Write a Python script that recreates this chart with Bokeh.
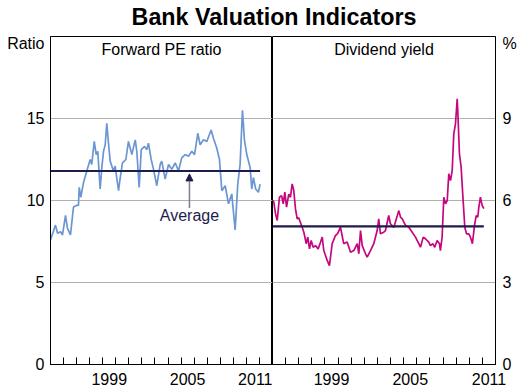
from bokeh.plotting import figure
from bokeh.models import Range1d, FixedTicker, Label, Arrow, NormalHead, Div
from bokeh.layouts import row, column
from bokeh.embed import file_html
from bokeh.resources import INLINE

# ---- data ----
pe_dates = [1995.00, 1995.38, 1995.54, 1995.77, 1995.92, 1996.15, 1996.30, 1996.53, 1996.76, 1996.99,
            1997.14, 1997.20, 1997.32, 1997.53, 1997.78, 1998.04, 1998.16, 1998.35, 1998.50, 1998.62,
            1998.80, 1998.93, 1999.06, 1999.19, 1999.31, 1999.44, 1999.57, 1999.82, 1999.95, 2000.21,
            2000.34, 2000.51, 2000.77, 2000.97, 2001.23, 2001.49, 2001.61, 2001.79, 2001.95, 2002.20,
            2002.37, 2002.50, 2002.71, 2002.89, 2003.14, 2003.40, 2003.52, 2003.78, 2004.04, 2004.29,
            2004.55, 2004.80, 2005.05, 2005.31, 2005.57, 2005.82, 2006.03, 2006.28, 2006.46, 2006.72,
            2006.97, 2007.30, 2007.48, 2007.73, 2007.94, 2008.12, 2008.38, 2008.63, 2008.88, 2009.14,
            2009.34, 2009.52, 2009.70, 2009.85, 2010.03, 2010.29, 2010.41, 2010.54, 2010.71, 2010.92,
            2011.05]
pe_ratio = [7.6, 8.5, 8.0, 8.1, 7.9, 9.1, 8.3, 7.9, 9.6, 9.7,
            9.7, 10.8, 10.2, 11.1, 11.8, 12.5, 12.2, 13.6, 12.8, 13.0,
            10.7, 12.0, 13.0, 13.4, 14.7, 13.5, 12.4, 11.8, 12.1, 10.6,
            11.4, 12.3, 12.5, 13.6, 12.8, 13.7, 13.0, 10.8, 13.1, 13.3,
            13.1, 13.5, 12.5, 11.9, 10.9, 12.2, 12.4, 11.3, 12.2, 11.9,
            12.3, 11.8, 12.6, 12.8, 12.7, 13.0, 12.8, 14.1, 13.4, 13.7,
            13.6, 14.3, 13.8, 13.2, 12.5, 10.6, 10.9, 9.8, 10.4, 8.2,
            11.0, 12.2, 15.5, 13.7, 12.8, 12.0, 10.7, 11.4, 10.7, 10.5,
            11.0]
pe_average = 11.8

dy_dates = [1995.02, 1995.10, 1995.23, 1995.36, 1995.53, 1995.69, 1995.82, 1995.94, 1996.07, 1996.24,
            1996.37, 1996.50, 1996.62, 1996.75, 1996.88, 1997.00, 1997.26, 1997.39, 1997.57, 1997.69,
            1997.82, 1997.95, 1998.10, 1998.28, 1998.48, 1998.66, 1998.79, 1998.91, 1999.17, 1999.34,
            1999.55, 1999.80, 1999.95, 2000.18, 2000.43, 2000.69, 2000.95, 2001.20, 2001.46, 2001.58,
            2001.71, 2001.84, 2002.09, 2002.22, 2002.47, 2002.72, 2002.98, 2003.10, 2003.23, 2003.48,
            2003.61, 2003.86, 2003.99, 2004.25, 2004.37, 2004.63, 2004.76, 2004.89, 2005.14, 2005.39,
            2005.65, 2005.90, 2006.15, 2006.28, 2006.49, 2006.66, 2006.91, 2007.04, 2007.22, 2007.37,
            2007.55, 2007.73, 2007.80, 2007.93, 2008.06, 2008.19, 2008.32, 2008.44, 2008.57, 2008.70,
            2008.82, 2008.95, 2009.08, 2009.12, 2009.25, 2009.38, 2009.50, 2009.66, 2009.79, 2009.96,
            2010.09, 2010.24, 2010.40, 2010.53, 2010.65, 2010.73, 2010.85, 2010.98, 2011.11]
dy_yield = [6.0, 5.94, 5.51, 5.27, 6.12, 6.18, 5.88, 6.31, 5.76, 6.23,
            6.12, 6.61, 6.37, 5.70, 5.33, 5.37, 5.02, 4.84, 4.42, 4.66,
            4.23, 4.54, 4.29, 4.35, 4.23, 4.47, 4.66, 4.17, 3.81, 3.62,
            4.42, 4.72, 4.78, 5.02, 4.42, 4.48, 4.11, 4.17, 4.42, 4.05,
            4.90, 4.35, 4.05, 3.93, 4.17, 4.42, 4.90, 5.33, 4.78, 4.84,
            4.90, 5.45, 5.15, 5.02, 5.21, 5.63, 5.39, 5.33, 5.09, 5.02,
            4.84, 4.66, 4.42, 4.29, 4.66, 4.60, 4.48, 4.35, 4.42, 4.29,
            4.54, 4.42, 4.17, 4.66, 6.12, 5.88, 6.00, 6.98, 6.73, 7.10,
            8.44, 8.80, 9.72, 9.35, 7.71, 7.22, 6.25, 5.02, 4.78, 4.78,
            4.66, 4.42, 5.09, 5.45, 5.39, 5.76, 6.12, 5.82, 5.70]
dy_average = 5.05

year_labels = [1999, 2005, 2011]
year_bounds = list(range(1995, 2013))
pe_ticks = [0, 5, 10, 15]
dy_ticks = [0, 3, 6, 9]
pe_unit = "Ratio"
dy_unit = "%"

FONT = "Liberation Sans"
BLUE = "#6b96d3"
MAGENTA = "#c5077f"
NAVY = "#1e1c4c"
GRID = "#b0b0b0"


def style_x(p):
    ax = p.xaxis[0]
    ax.ticker = FixedTicker(ticks=[y + 0.5 for y in year_labels], minor_ticks=year_bounds)
    ax.major_label_overrides = {y + 0.5: str(y) for y in year_labels}
    ax.major_tick_in = 0
    ax.major_tick_out = 0
    ax.minor_tick_in = 7
    ax.minor_tick_out = 0
    ax.minor_tick_line_color = "black"
    ax.axis_line_color = "black"
    ax.major_label_text_font = FONT
    ax.major_label_text_font_size = "16px"
    ax.major_label_text_color = "black"
    ax.major_label_standoff = 8
    p.xgrid.visible = False


def style_y(p, ticks, unit, unit_pos, standoff):
    ax = p.yaxis[0]
    # the unit caption sits in the tick-label column, just under the frame top
    ax.ticker = FixedTicker(ticks=ticks + [unit_pos])
    ax.major_label_overrides = {unit_pos: unit}
    ax.major_tick_in = 0
    ax.major_tick_out = 0
    ax.minor_tick_line_color = None
    ax.axis_line_color = "black"
    ax.major_label_text_font = FONT
    ax.major_label_text_font_size = "16px"
    ax.major_label_text_color = "black"
    ax.major_label_standoff = standoff
    p.ygrid.ticker = FixedTicker(ticks=ticks[1:])
    p.ygrid.grid_line_color = GRID
    p.ygrid.grid_line_width = 1


common = dict(output_backend="svg", toolbar_location=None, height=358,
              x_range=Range1d(1995, 2012), min_border_top=2, min_border_bottom=28,
              outline_line_color="black", background_fill_color="white",
              border_fill_color="white")

# ---- left panel ----
p1 = figure(width=272, y_range=Range1d(0, 20), y_axis_location="left",
            min_border_left=50, min_border_right=0, **common)
style_x(p1)
style_y(p1, pe_ticks, pe_unit, 19.6, 6)
p1.line(pe_dates, pe_ratio, line_color=BLUE, line_width=1.7)
p1.line([pe_dates[0], pe_dates[-1]], [pe_average, pe_average], line_color=NAVY, line_width=2.2)
p1.add_layout(Arrow(x_start=2005.64, y_start=9.55, x_end=2005.64, y_end=11.62,
                    line_color="#7d7d92", line_width=1.5,
                    end=NormalHead(size=7, fill_color=NAVY, line_color=NAVY)))
p1.add_layout(Label(x=2005.64, y=9.1, text="Average", text_align="center",
                    text_baseline="alphabetic", text_font=FONT, text_font_size="16px",
                    text_color=NAVY))
p1.add_layout(Label(x=2003.5, y=20, y_offset=-12.5, text="Forward PE ratio",
                    text_align="center", text_baseline="alphabetic", text_font=FONT,
                    text_font_size="16px", text_color="black"))

# ---- right panel ----
p2 = figure(width=247, y_range=Range1d(0, 12), y_axis_location="right",
            min_border_left=0, min_border_right=24, **common)
style_x(p2)
style_y(p2, dy_ticks, dy_unit, 11.76, 7)
p2.line(dy_dates, dy_yield, line_color=MAGENTA, line_width=1.7)
p2.line([dy_dates[0], dy_dates[-1]], [dy_average, dy_average], line_color=NAVY, line_width=2.2)
p2.add_layout(Label(x=2003.5, y=12, y_offset=-12.5, text="Dividend yield",
                    text_align="center", text_baseline="alphabetic", text_font=FONT,
                    text_font_size="16px", text_color="black"))

title = Div(text="Bank Valuation Indicators", width=519, height=34, margin=(0, 0, 0, 0),
            styles={"font-family": "'Liberation Sans', Arial, sans-serif",
                    "font-size": "23.3px", "font-weight": "bold", "line-height": "34px",
                    "text-align": "center", "padding-left": "29px",
                    "box-sizing": "border-box", "color": "black"})

layout = column(title, row(p1, p2, spacing=0), spacing=0)

open("out.html", "w").write(file_html(layout, INLINE))
